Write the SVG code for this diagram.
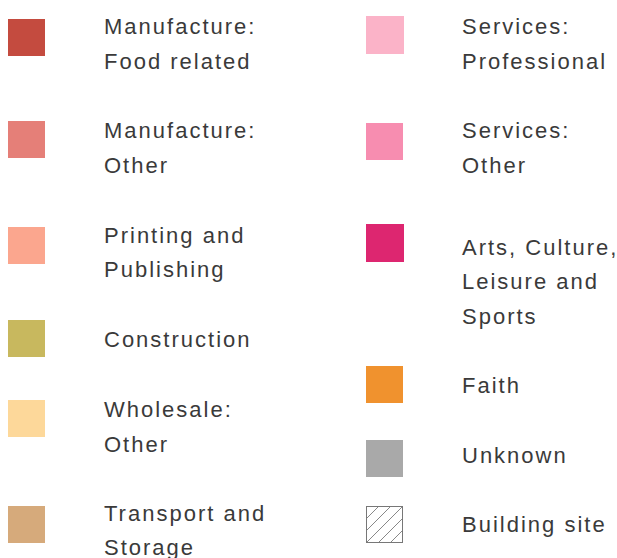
<svg xmlns="http://www.w3.org/2000/svg" width="617" height="558" viewBox="0 0 617 558">
<style>
text{font-family:"Liberation Sans",Arial,sans-serif;font-size:22px;letter-spacing:2px;fill:#3a3a3a}
</style>
<defs>
<clipPath id="bc"><rect x="366" y="506" width="37" height="37"/></clipPath>
</defs>
<rect width="617" height="558" fill="#fff"/>
<g id="food"><rect x="8" y="19" width="37" height="37" fill="#c44b3f"/><text x="104" y="34">Manufacture:</text><text x="104" y="69">Food related</text></g>
<g id="manother"><rect x="8" y="121" width="37" height="37" fill="#e57f78"/><text x="104" y="138">Manufacture:</text><text x="104" y="173">Other</text></g>
<g id="printing"><rect x="8" y="227" width="37" height="37" fill="#fba68e"/><text x="104" y="243">Printing and</text><text x="104" y="277">Publishing</text></g>
<g id="construction"><rect x="8" y="320" width="37" height="37" fill="#c8b85e"/><text x="104" y="347">Construction</text></g>
<g id="wholesale"><rect x="8" y="400" width="37" height="37" fill="#fdd89a"/><text x="104" y="417">Wholesale:</text><text x="104" y="452">Other</text></g>
<g id="transport"><rect x="8" y="506" width="37" height="37" fill="#d6aa7b"/><text x="104" y="521">Transport and</text><text x="104" y="555">Storage</text></g>
<g id="servprof"><rect x="366" y="16" width="38" height="38" fill="#fbb3c8"/><text x="462" y="34">Services:</text><text x="462" y="69">Professional</text></g>
<g id="servother"><rect x="366" y="123" width="37" height="37" fill="#f78db0"/><text x="462" y="138">Services:</text><text x="462" y="173">Other</text></g>
<g id="arts"><rect x="366" y="224" width="38" height="38" fill="#dd2670"/><text x="462" y="255">Arts, Culture,</text><text x="462" y="289">Leisure and</text><text x="462" y="324">Sports</text></g>
<g id="faith"><rect x="366" y="366" width="37" height="37" fill="#f0922e"/><text x="462" y="393">Faith</text></g>
<g id="unknown"><rect x="366" y="440" width="37" height="37" fill="#a9a9a9"/><text x="462" y="463">Unknown</text></g>
<g id="building"><g clip-path="url(#bc)" stroke="#888" stroke-width="1"><line x1="354" y1="531" x2="390" y2="495"/><line x1="366" y1="531" x2="402" y2="495"/><line x1="366" y1="543" x2="414" y2="495"/><line x1="378" y1="543" x2="414" y2="507"/><line x1="390" y1="543" x2="414" y2="519"/></g><rect x="366.5" y="506.5" width="36" height="36" fill="none" stroke="#777"/><text x="462" y="532">Building site</text></g>
</svg>
